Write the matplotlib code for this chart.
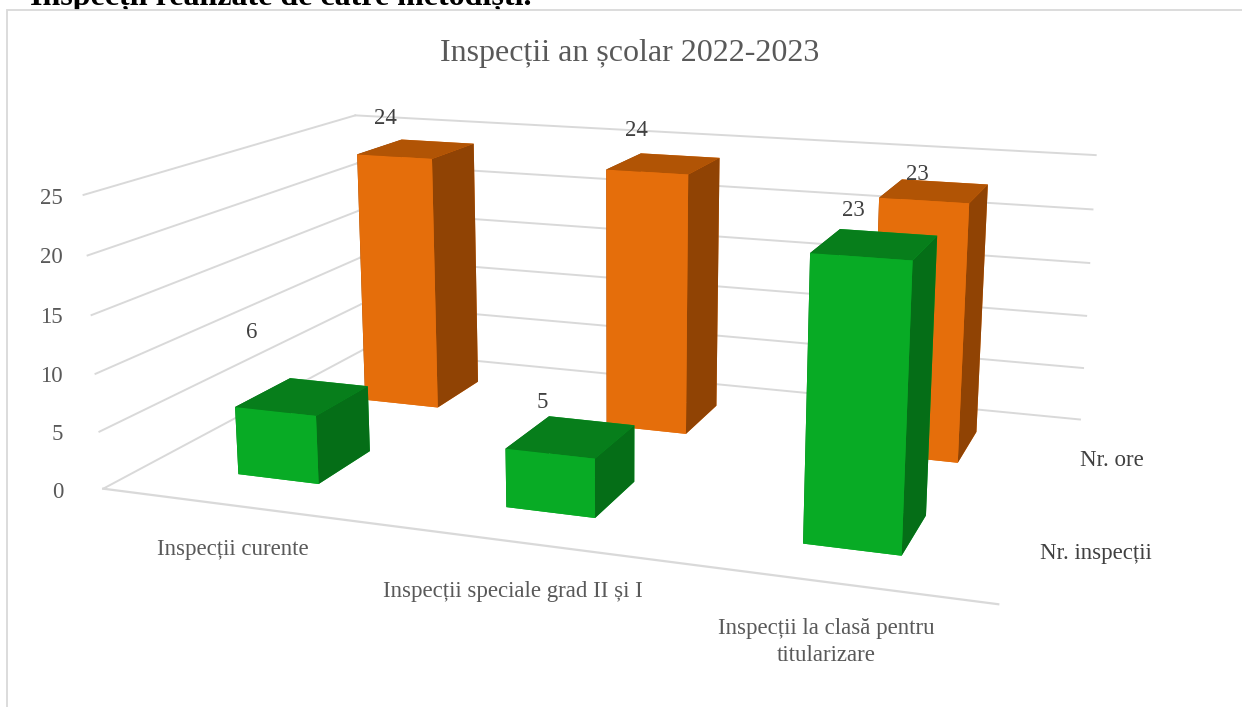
import matplotlib
matplotlib.use('Agg')
import numpy as np
import matplotlib.pyplot as plt
from matplotlib.patches import Rectangle

WIDTH, HEIGHT = 1242, 707

heading = 'Inspecții realizate de către metodiști.'
title = 'Inspecții an școlar 2022-2023'
categories = ['Inspecții curente', 'Inspecții speciale grad II și I', 'Inspecții la clasă pentru\ntitularizare']
series_names = ['Nr. inspecții', 'Nr. ore']
nr_inspectii = [6, 5, 23]
nr_ore = [24, 24, 23]
value_ticks = [0, 5, 10, 15, 20, 25]

GREEN = ['#08AB25', '#08AB25', '#08AB25', '#08AB25', '#056E17', '#056E17']
ORANGE = ['#E56E0B', '#E56E0B', '#E56E0B', '#E56E0B', '#904304', '#904304']
GREEN_TOP, ORANGE_TOP = '#077E1B', '#B15405'
GRID = '#D9D9D9'


def fx(px):
	return px / WIDTH


def fy(py):
	return 1 - py / HEIGHT


def bar_colors(face, top):
	# bar3d order: -Z, +Z, -Y, +Y, -X, +X
	return [face[0], top, face[2], face[3], face[4], face[5]]


plt.rcParams['font.family'] = ['Liberation Serif', 'DejaVu Serif']
fig = plt.figure(figsize=(WIDTH / 100, HEIGHT / 100), dpi=100, facecolor='white')

# Heading of the page, cut by the picture edge and by the chart frame
fig.text(fx(30), fy(5), heading, fontsize=23, fontweight='bold', color='black', va='baseline', zorder=0.5)
fig.add_artist(Rectangle((fx(7), fy(HEIGHT + 20)), fx(WIDTH), fy(10) - fy(HEIGHT + 20), transform=fig.transFigure,
						 facecolor='white', edgecolor=GRID, linewidth=1.3, zorder=1))

# Camera: the box centre lands on (cx, cy); focal_length sets perspective only, world scale sets size
cx, cy = 618.5, 315.5
focal = 0.265
side = 1369
ax = fig.add_axes([fx(cx - 0.5135 * side), fy(cy) - 0.5135 * side / HEIGHT, side / WIDTH, side / HEIGHT], projection='3d', zorder=2)
ax.set_proj_type('persp', focal_length=focal)
ax.view_init(elev=14, azim=-70.3)
aspect = np.array([4.63, 2.96, 1.55])
ax.set_box_aspect(aspect, zoom=0.25 * np.linalg.norm(aspect) / 1.9057)
ax.set_axis_off()
ax.patch.set_alpha(0)
ax.computed_zorder = False

n_cat, n_ser = len(categories), len(series_names)
ax.set_xlim(0, n_cat)
ax.set_ylim(0, n_ser)
ax.set_zlim(0, value_ticks[-1])

# Gridlines on left and back walls, plus the front floor edge
for v in value_ticks:
	ax.plot([0, 0], [0, n_ser], [v, v], color=GRID, lw=1.4, zorder=1)
	ax.plot([0, n_cat], [n_ser, n_ser], [v, v], color=GRID, lw=1.4, zorder=1)
ax.plot([0, n_cat], [0, 0], [0, 0], color=GRID, lw=1.6, zorder=1)

bar_w, bar_d = 0.31, 0.4
xs = np.arange(n_cat) + 0.505 - bar_w / 2
for i in range(n_cat):
	ax.bar3d(xs[i], 1.5 - bar_d / 2, 0, bar_w, bar_d, nr_ore[i], color=bar_colors(ORANGE, ORANGE_TOP),
			 shade=False, linewidth=0, zorder=3 + i)
for i in range(n_cat):
	ax.bar3d(xs[i], 0.5 - bar_d / 2, 0, bar_w, bar_d, nr_inspectii[i], color=bar_colors(GREEN, GREEN_TOP),
			 shade=False, linewidth=0, zorder=7 + i)

# Text
fig.text(fx(630), fy(54), title, fontsize=23, color='#595959', ha='center', va='center', zorder=3)
for v, py in zip(value_ticks, [493, 434, 376, 317, 258, 198]):
	fig.text(fx(63), fy(py), str(v), fontsize=16.5, color='#595959', ha='right', va='center', zorder=3)
for label, (px, py) in zip(categories, [(233, 549), (513, 592), (826, 642)]):
	fig.text(fx(px), fy(py), label, fontsize=16.5, color='#595959', ha='center', va='center', linespacing=1.4, zorder=3)
for label, (px, py) in zip(series_names, [(1096, 554), (1112, 461)]):
	fig.text(fx(px), fy(py), label, fontsize=16.5, color='#404040', ha='center', va='center', zorder=3)
for v, (px, py) in zip(nr_inspectii, [(252, 333), (542, 403), (853, 211)]):
	fig.text(fx(px), fy(py), str(v), fontsize=16.5, color='#404040', ha='center', va='center', zorder=3)
for v, (px, py) in zip(nr_ore, [(385, 118), (636, 130), (917, 175)]):
	fig.text(fx(px), fy(py), str(v), fontsize=16.5, color='#404040', ha='center', va='center', zorder=3)

fig.savefig('out.png', dpi=100)
